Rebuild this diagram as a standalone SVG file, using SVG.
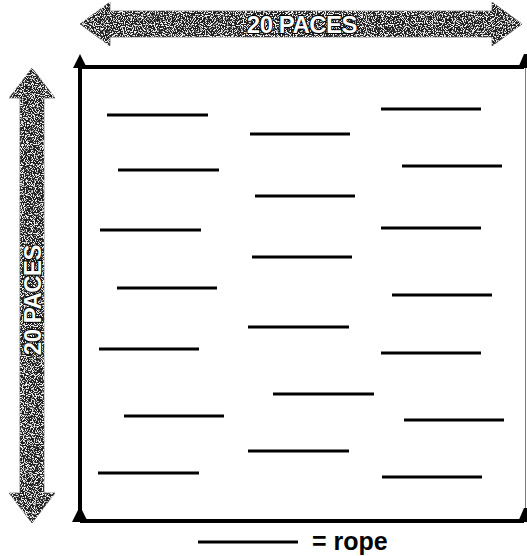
<svg xmlns="http://www.w3.org/2000/svg" width="527" height="556" viewBox="0 0 527 556">
<defs>
<filter id="speckle" x="0" y="0" width="100%" height="100%">
<feTurbulence type="fractalNoise" baseFrequency="0.9" numOctaves="2" seed="3" result="n"/>
<feColorMatrix in="n" type="matrix" values="0 0 0 0 0  0 0 0 0 0  0 0 0 0 0  0 0 0 -10 4.9" result="dots"/>
<feFlood flood-color="#f0f0f0" result="light"/>
<feComposite in="light" in2="dots" operator="in" result="lightDots"/>
<feComposite in="lightDots" in2="SourceGraphic" operator="in" result="clip"/>
<feMerge><feMergeNode in="SourceGraphic"/><feMergeNode in="clip"/></feMerge>
</filter>
</defs>
<style>
.arrow{fill:#202020;stroke:#555;stroke-width:0.8;filter:url(#speckle)}
.label{font-family:"Liberation Sans",Arial,sans-serif;font-weight:bold;font-size:24px;letter-spacing:-0.5px;fill:#fff;stroke:#000;stroke-width:2;paint-order:stroke;text-anchor:middle}
.edge{stroke:#000;stroke-width:4;fill:none}
.rope{stroke:#000;stroke-width:3}
.tri{fill:#000}
.legend{font-family:"Liberation Sans",Arial,sans-serif;font-weight:bold;font-size:25px;fill:#000}
</style>
<rect width="527" height="556" fill="#fff"/>
<g id="top-arrow">
<path class="arrow" d="M80,24 L110,2 L110,11 L492,11 L492,2 L522,24 L492,46 L492,37 L110,37 L110,46 Z"/>
<text class="label" x="302" y="33">20 PACES</text>
</g>
<g id="left-arrow">
<path class="arrow" d="M32,68 L55,98 L44,98 L44,493 L55,493 L32,523 L9,493 L20,493 L20,98 L9,98 Z"/>
<text class="label" transform="translate(41,300) rotate(-90)" x="0" y="0">20 PACES</text>
</g>
<g id="field">
<path class="edge" d="M80,66 V522 M80,67 H524 M80,521 H524"/>
<path d="M525.5,68 V521" stroke="#000" stroke-width="1" opacity="0.5"/>
<path class="tri" d="M80,54 L87,68 L73,68 Z M80,506 L88,522 L72,522 Z M524,54 L527,54 L527,68 L518,68 Z M524,508 L527,508 L527,522 L518,522 Z"/>
</g>
<g id="ropes">
<path class="rope" d="M107,115 H208 M118,170 H219 M100,230 H201 M117,288 H217 M99,349 H199 M124,416 H224 M98,473 H199"/>
<path class="rope" d="M250,134 H350 M255,196 H355 M252,257 H352 M248,327 H349 M273,394 H374 M248,451 H349"/>
<path class="rope" d="M381,109 H481 M402,166 H502 M381,228 H481 M392,295 H492 M381,353 H481 M404,420 H504 M382,477 H482"/>
</g>
<g id="legend">
<path class="rope" d="M198,542 H298"/>
<text class="legend" x="312" y="550">= rope</text>
</g>
</svg>
